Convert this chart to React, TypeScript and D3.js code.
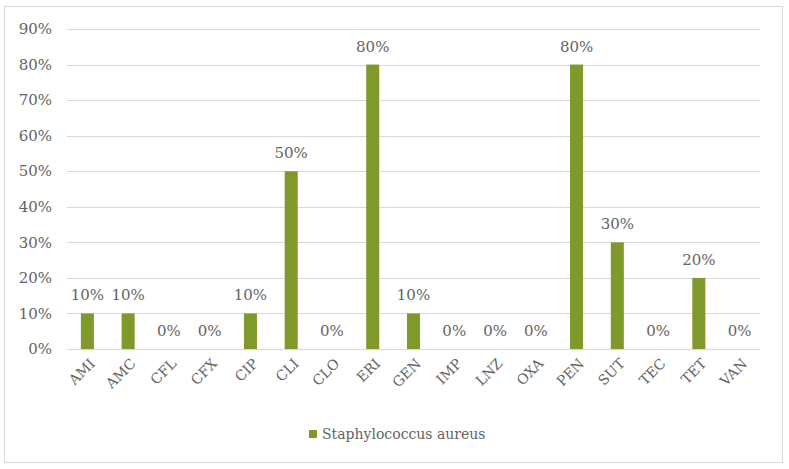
import { useEffect, useRef } from "react";
import * as d3 from "d3";

const categories = ["AMI", "AMC", "CFL", "CFX", "CIP", "CLI", "CLO", "ERI", "GEN", "IMP", "LNZ", "OXA", "PEN", "SUT", "TEC", "TET", "VAN"];
const values = [10, 10, 0, 0, 10, 50, 0, 80, 10, 0, 0, 0, 80, 30, 0, 20, 0];
const yTicks = [0, 10, 20, 30, 40, 50, 60, 70, 80, 90];
const seriesName = "Staphylococcus aureus";

const W = 789;
const H = 469;
const FONT = "'DejaVu Serif', serif";
const GREY = "#636363";
const BAR = "#7f992b";

export default function App() {
  const svgRef = useRef<SVGSVGElement>(null);

  useEffect(() => {
    if (!svgRef.current) return;
    const svg = d3.select(svgRef.current);
    svg.selectAll("*").remove();

    const left = 67;
    const right = 760;
    const top = 29;
    const bottom = 349;

    // chart frame
    svg.append("rect")
      .attr("x", 4.5).attr("y", 6.5)
      .attr("width", 778).attr("height", 456)
      .attr("fill", "#fff").attr("stroke", "#d9d9d9").attr("stroke-width", 1);

    const x = d3.scaleBand<string>().domain(categories).range([left, right]).paddingInner(0.68).paddingOuter(0.34);
    const y = d3.scaleLinear().domain([0, 90]).range([bottom, top]);

    // gridlines
    svg.append("g")
      .selectAll("line")
      .data(yTicks)
      .join("line")
      .attr("x1", left).attr("x2", right)
      .attr("y1", (d) => Math.round(y(d)) + 0.5)
      .attr("y2", (d) => Math.round(y(d)) + 0.5)
      .attr("stroke", "#d9d9d9").attr("stroke-width", 1);

    // y tick labels
    svg.append("g")
      .selectAll("text")
      .data(yTicks)
      .join("text")
      .attr("x", 52)
      .attr("y", (d) => y(d))
      .attr("dy", "0.35em")
      .attr("text-anchor", "end")
      .attr("font-size", 15).attr("fill", GREY)
      .text((d) => `${d}%`);

    // bars
    svg.append("g")
      .selectAll("rect")
      .data(values)
      .join("rect")
      .attr("x", (_, i) => x(categories[i])!)
      .attr("width", x.bandwidth())
      .attr("y", (d) => y(d))
      .attr("height", (d) => bottom - y(d))
      .attr("fill", BAR);

    // data labels
    svg.append("g")
      .selectAll("text")
      .data(values)
      .join("text")
      .attr("x", (_, i) => x(categories[i])! + x.bandwidth() / 2)
      .attr("y", (d) => y(d) - 13)
      .attr("text-anchor", "middle")
      .attr("font-size", 15).attr("fill", GREY)
      .text((d) => `${d}%`);

    // x labels
    svg.append("g")
      .selectAll("text")
      .data(categories)
      .join("text")
      .attr("transform", (d) => `translate(${x(d)! + x.bandwidth() / 2 + 5},${bottom + 12}) rotate(-45)`)
      .attr("dy", "0.35em")
      .attr("text-anchor", "end")
      .attr("font-size", 14).attr("fill", GREY)
      .text((d) => d);

    // legend
    const lg = svg.append("g").attr("transform", "translate(309,434)");
    lg.append("rect").attr("x", 0).attr("y", -4).attr("width", 8).attr("height", 8).attr("fill", BAR);
    lg.append("text")
      .attr("x", 13).attr("y", 0).attr("dy", "0.35em")
      .attr("font-size", 14).attr("fill", GREY)
      .text(seriesName);
  }, []);

  return (
    <svg
      ref={svgRef}
      width={W}
      height={H}
      style={{ position: "absolute", left: 0, top: 0, background: "#fff", fontFamily: FONT }}
    />
  );
}
